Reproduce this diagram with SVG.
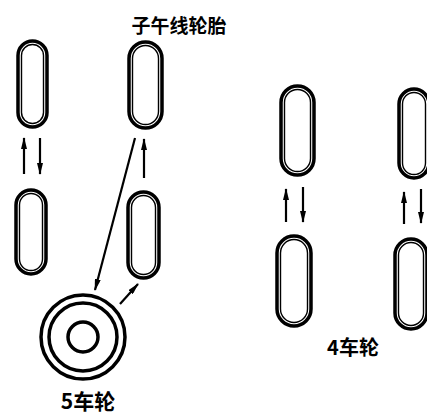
<svg xmlns="http://www.w3.org/2000/svg" width="427" height="415" viewBox="0 0 427 415">
  <style>
    .tire-out { fill: #fff; stroke: #000; stroke-width: 3.5; }
    .tire-in { fill: none; stroke: #000; stroke-width: 1.4; }
    .ring { fill: none; stroke: #000; stroke-width: 3.5; }
    .link { stroke: #000; stroke-width: 2.2; fill: none; }
    .label { font-family: "Noto Sans CJK SC", "Noto Sans", sans-serif; font-weight: bold; fill: #000; }
  </style>
  <defs>
    <marker id="head" viewBox="0 0 12 6" refX="11" refY="3" markerWidth="12" markerHeight="6" markerUnits="userSpaceOnUse" orient="auto">
      <path d="M0,0 L12,3 L0,6 Z" fill="#000"/>
    </marker>
  </defs>
  <rect width="427" height="415" fill="#fff"/>

  <text class="label" x="179" y="33" font-size="19" text-anchor="middle">子午线轮胎</text>

  <!-- tires of the five-wheel rotation -->
  <g id="tire-a1">
    <rect class="tire-out" x="18" y="41" width="29" height="86" rx="14.5"/>
    <rect class="tire-in" x="21.5" y="44.5" width="22" height="79" rx="11"/>
  </g>
  <g id="tire-a2">
    <rect class="tire-out" x="129" y="42" width="33" height="86" rx="16.5"/>
    <rect class="tire-in" x="132.5" y="45.5" width="26" height="79" rx="13"/>
  </g>
  <g id="tire-a3">
    <rect class="tire-out" x="16" y="190" width="30" height="84" rx="15"/>
    <rect class="tire-in" x="19.5" y="193.5" width="23" height="77" rx="11.5"/>
  </g>
  <g id="tire-a4">
    <rect class="tire-out" x="128" y="192" width="31" height="86" rx="15.5"/>
    <rect class="tire-in" x="131.5" y="195.5" width="24" height="79" rx="12"/>
  </g>
  <g id="spare">
    <circle class="ring" cx="83" cy="337" r="42"/>
    <circle class="ring" cx="83" cy="337" r="34"/>
    <circle class="ring" cx="83" cy="337" r="15"/>
  </g>
  <text class="label" x="88" y="409" font-size="21" text-anchor="middle">5车轮</text>

  <!-- tires of the four-wheel rotation -->
  <g id="tire-b1">
    <rect class="tire-out" x="281" y="86" width="33" height="89" rx="16.5"/>
    <rect class="tire-in" x="284.5" y="89.5" width="26" height="82" rx="13"/>
  </g>
  <g id="tire-b2">
    <rect class="tire-out" x="399" y="89" width="30" height="89" rx="15"/>
    <rect class="tire-in" x="402.5" y="92.5" width="23" height="82" rx="11.5"/>
  </g>
  <g id="tire-b3">
    <rect class="tire-out" x="277" y="236" width="34" height="90" rx="17"/>
    <rect class="tire-in" x="280.5" y="239.5" width="27" height="83" rx="13.5"/>
  </g>
  <g id="tire-b4">
    <rect class="tire-out" x="395" y="239" width="32" height="90" rx="16"/>
    <rect class="tire-in" x="398.5" y="242.5" width="25" height="83" rx="12.5"/>
  </g>
  <text class="label" x="353" y="355" font-size="20" text-anchor="middle">4车轮</text>

  <g id="connectors">
    <line class="link" x1="24" y1="174" x2="24" y2="138" marker-end="url(#head)"/>
    <line class="link" x1="40" y1="138" x2="40" y2="174" marker-end="url(#head)"/>
    <line class="link" x1="144" y1="178" x2="144" y2="139" marker-end="url(#head)"/>
    <line class="link" x1="135" y1="138" x2="95" y2="290" marker-end="url(#head)"/>
    <line class="link" x1="120" y1="304" x2="138" y2="284" marker-end="url(#head)"/>
    <line class="link" x1="286" y1="222" x2="286" y2="189" marker-end="url(#head)"/>
    <line class="link" x1="303" y1="187" x2="303" y2="222" marker-end="url(#head)"/>
    <line class="link" x1="404" y1="224" x2="404" y2="192" marker-end="url(#head)"/>
    <line class="link" x1="421" y1="189" x2="421" y2="223" marker-end="url(#head)"/>
  </g>
</svg>
